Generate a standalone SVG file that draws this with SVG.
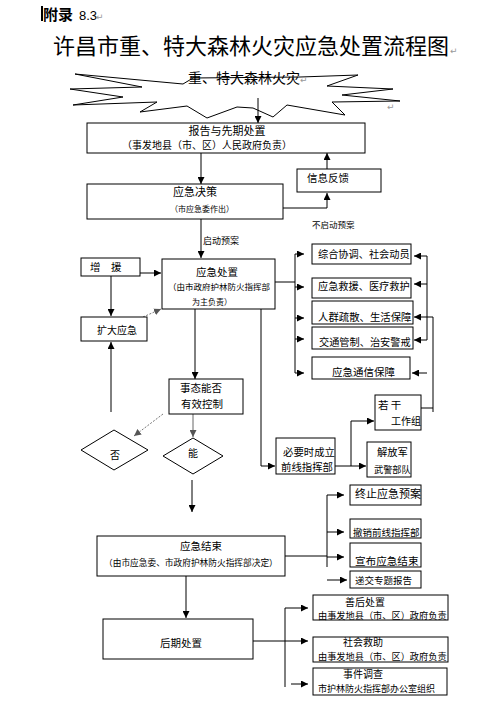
<svg xmlns="http://www.w3.org/2000/svg" width="501" height="704" viewBox="0 0 501 704">
<style>
text{font-family:"Noto Sans CJK SC","Noto Sans CJK JP",sans-serif;fill:#000}
.box{fill:#fff;stroke:#000;stroke-width:1}
.ln{fill:none;stroke:#000;stroke-width:1}
.gl{fill:none;stroke:#666;stroke-width:1}
.dt{fill:none;stroke:#777;stroke-width:1;stroke-dasharray:2 1.5}
.pm{fill:#999;font-size:9px;font-family:"DejaVu Sans",sans-serif}
.m{text-anchor:middle}
</style>
<defs>
<marker id="a" viewBox="0 0 10 10" refX="10" refY="5" markerWidth="7" markerHeight="7" markerUnits="userSpaceOnUse" orient="auto"><path d="M0,0L10,5L0,10z" fill="#000"/></marker>
<marker id="g" viewBox="0 0 10 10" refX="10" refY="5" markerWidth="7" markerHeight="7" markerUnits="userSpaceOnUse" orient="auto"><path d="M0,0L10,5L0,10z" fill="#555"/></marker>
</defs>
<rect width="501" height="704" fill="#fff"/>

<g id="header">
<rect x="41" y="6" width="2" height="15" fill="#000"/>
<text x="43" y="20" font-size="15" font-weight="bold">附录</text>
<text x="79" y="20" font-size="13" style="font-family:'Liberation Sans',sans-serif">8.3</text>
<text x="96" y="20" class="pm">↵</text>
<text x="53" y="54" font-size="22">许昌市重、特大森林火灾应急处置流程图</text>
<text x="450" y="54" class="pm">↵</text>
</g>

<g id="start">
<polygon class="box" points="75,74 183,84 193,78 300,77 358,75 327,86 393,89 342,95 400,101 332,102 345,115 287,105 273,117 253,108 237,107 207,118 187,106 140,112 157,102 73,105 123,97 70,89 142,87"/>
<text x="188" y="83" font-size="14">重、特大森林火灾</text>
<text x="300" y="83" class="pm">↵</text>
<text x="387" y="110" class="pm">↵</text>
</g>

<g id="connectors">
<line class="ln" x1="258" y1="98" x2="258" y2="123" marker-end="url(#a)"/>
<line class="ln" x1="201" y1="153" x2="201" y2="184" marker-end="url(#a)"/>
<polyline class="ln" points="283,208 327,208 327,193" marker-end="url(#a)"/>
<line class="ln" x1="327" y1="169" x2="327" y2="153" marker-end="url(#a)"/>
<line class="ln" x1="201" y1="219" x2="201" y2="258" marker-end="url(#a)"/>
<line class="ln" x1="140" y1="273" x2="161" y2="273" marker-end="url(#a)"/>
<line class="ln" x1="111" y1="276" x2="111" y2="316" marker-end="url(#a)"/>
<line class="dt" x1="143" y1="317" x2="161" y2="309" marker-end="url(#g)"/>
<line class="ln" x1="111" y1="412" x2="111" y2="342" marker-end="url(#a)"/>
<line class="ln" x1="195" y1="309" x2="195" y2="379" marker-end="url(#a)"/>
<line class="gl" x1="193" y1="414" x2="193" y2="437" marker-end="url(#g)"/>
<line class="dt" x1="163" y1="414" x2="134" y2="436" marker-end="url(#g)"/>
<line class="ln" x1="192" y1="480" x2="192" y2="512" marker-end="url(#a)"/>
<polyline class="ln" points="275,282 295,282"/>
<line class="ln" x1="295" y1="254" x2="295" y2="373"/>
<line class="ln" x1="295" y1="254" x2="304" y2="254" marker-end="url(#a)"/>
<line class="ln" x1="295" y1="287" x2="304" y2="287" marker-end="url(#a)"/>
<line class="ln" x1="295" y1="318" x2="304" y2="318" marker-end="url(#a)"/>
<line class="ln" x1="295" y1="339" x2="304" y2="339" marker-end="url(#a)"/>
<line class="ln" x1="295" y1="373" x2="304" y2="373" marker-end="url(#a)"/>
<line class="ln" x1="427" y1="256" x2="427" y2="340"/>
<line class="ln" x1="427" y1="256" x2="414" y2="256" marker-end="url(#a)"/>
<line class="ln" x1="427" y1="284" x2="414" y2="284" marker-end="url(#a)"/>
<line class="ln" x1="427" y1="340" x2="414" y2="340" marker-end="url(#a)"/>
<line class="ln" x1="433" y1="317" x2="433" y2="412"/>
<line class="ln" x1="433" y1="317" x2="414" y2="317" marker-end="url(#a)"/>
<line class="ln" x1="427" y1="373" x2="412" y2="373" marker-end="url(#a)"/>
<line class="ln" x1="421" y1="408" x2="433" y2="408"/>
<polyline class="ln" points="261,302 261,466 275,466" marker-end="url(#a)"/>
<line class="ln" x1="335" y1="466" x2="366" y2="466" marker-end="url(#a)"/>
<polyline class="ln" points="351,466 351,421 374,421" marker-end="url(#a)"/>
<line class="ln" x1="285" y1="556" x2="327" y2="556"/>
<line class="ln" x1="327" y1="495" x2="327" y2="567"/>
<line class="ln" x1="327" y1="495" x2="344" y2="495" marker-end="url(#a)"/>
<line class="ln" x1="327" y1="532" x2="344" y2="532" marker-end="url(#a)"/>
<line class="ln" x1="327" y1="557" x2="344" y2="557" marker-end="url(#a)"/>
<line class="ln" x1="327" y1="580" x2="347" y2="580" marker-end="url(#a)"/>
<line class="ln" x1="186" y1="576" x2="186" y2="618" marker-end="url(#a)"/>
<line class="ln" x1="253" y1="641" x2="308" y2="641" marker-end="url(#a)"/>
<line class="ln" x1="285" y1="608" x2="285" y2="687"/>
<line class="ln" x1="285" y1="608" x2="308" y2="608" marker-end="url(#a)"/>
<line class="ln" x1="291" y1="684" x2="308" y2="684" marker-end="url(#a)"/>
<text x="312" y="228" font-size="8.5">不启动预案</text>
<text x="203" y="244" font-size="9">启动预案</text>
</g>

<g id="n1"><rect class="box" x="87" y="123" width="278" height="30"/>
<text class="m" x="227" y="135" font-size="11">报告与先期处置</text>
<text x="122" y="149" font-size="10">（事发地县（市、区）人民政府负责）</text></g>

<g id="n2"><rect class="box" x="87" y="184" width="196" height="35"/>
<text class="m" x="195" y="196" font-size="11">应急决策</text>
<text x="170" y="212" font-size="8">（市应急委作出）</text></g>

<g id="n3"><rect class="box" x="297" y="169" width="84" height="23"/>
<text x="307" y="182" font-size="10.5">信息反馈</text></g>

<g id="n4"><rect class="box" x="162" y="259" width="113" height="50"/>
<text class="m" x="217" y="276" font-size="10.5">应急处置</text>
<text x="168" y="290" font-size="8.5">（由市政府护林防火指挥部</text>
<text x="192" y="305" font-size="8">为主负责）</text></g>

<g id="n5"><rect class="box" x="81" y="258" width="59" height="18"/>
<text x="90" y="271" font-size="10.5">增　援</text></g>

<g id="n6"><rect class="box" x="81" y="317" width="66" height="24"/>
<text x="97" y="334" font-size="10">扩大应急</text></g>

<g id="n7"><rect class="box" x="169" y="379" width="74" height="35"/>
<text x="180" y="392" font-size="10.5">事态能否</text>
<text x="181" y="408" font-size="10.5">有效控制</text></g>

<g id="n8"><polygon class="box" points="81,450 114,430 148,450 114,470"/>
<text class="m" x="115" y="459" font-size="10">否</text></g>

<g id="n9"><polygon class="box" points="163,456 193,438 223,456 193,474"/>
<text class="m" x="193" y="457" font-size="10">能</text></g>

<g id="r1"><rect class="box" x="312" y="244" width="99" height="20"/>
<text x="318" y="258" font-size="10.2">综合协调、社会动员</text></g>
<g id="r2"><rect class="box" x="312" y="278" width="99" height="20"/>
<text x="318" y="290" font-size="10.2">应急救援、医疗救护</text></g>
<g id="r3"><rect class="box" x="312" y="301" width="101" height="23"/>
<text x="318" y="321" font-size="10.4">人群疏散、生活保障</text></g>
<g id="r4"><rect class="box" x="312" y="327" width="101" height="22"/>
<text x="319" y="346" font-size="10.2">交通管制、治安警戒</text></g>
<g id="r5"><rect class="box" x="312" y="357" width="98" height="22"/>
<text x="332" y="376" font-size="10.5">应急通信保障</text></g>

<g id="n15"><rect class="box" x="276" y="438" width="59" height="36"/>
<text x="283" y="456" font-size="10.4">必要时成立</text>
<text x="281" y="471" font-size="10.4">前线指挥部</text></g>

<g id="n16"><rect class="box" x="375" y="395" width="46" height="35"/>
<text x="378" y="409" font-size="10.5">若 干</text>
<text x="391" y="425" font-size="10">工作组</text></g>

<g id="n17"><rect class="box" x="367" y="442" width="44" height="35"/>
<text x="377" y="456" font-size="10.3">解放军</text>
<text x="374" y="473" font-size="9.2">武警部队</text></g>

<g id="n18"><rect class="box" x="97" y="536" width="188" height="40"/>
<text class="m" x="201" y="550" font-size="10.5">应急结束</text>
<text x="104" y="566" font-size="8.7">（由市应急委、市政府护林防火指挥部决定）</text></g>

<g id="n19"><rect class="box" x="350" y="485" width="71" height="20"/>
<text x="355" y="498" font-size="11">终止应急预案</text></g>
<g id="n20"><rect class="box" x="350" y="519" width="71" height="19"/>
<text x="353" y="536" font-size="9.5">撤销前线指挥部</text></g>
<g id="n21"><rect class="box" x="350" y="543" width="71" height="24"/>
<text x="355" y="565" font-size="10.6">宣布应急结束</text></g>
<g id="n22"><rect class="box" x="350" y="571" width="71" height="17"/>
<text x="355" y="584" font-size="9.5">递交专题报告</text></g>

<g id="n23"><rect class="box" x="103" y="619" width="150" height="40"/>
<text x="160" y="647" font-size="10.5">后期处置</text></g>

<g id="n24"><rect class="box" x="313" y="595" width="135" height="25"/>
<text x="345" y="606" font-size="10">善后处置</text>
<text x="318" y="619" font-size="9.2">由事发地县（市、区）政府负责</text></g>
<g id="n25"><rect class="box" x="313" y="637" width="135" height="25"/>
<text x="343" y="646" font-size="10">社会救助</text>
<text x="318" y="660" font-size="9.2">由事发地县（市、区）政府负责</text></g>
<g id="n26"><rect class="box" x="313" y="668" width="134" height="27"/>
<text x="343" y="678" font-size="10">事件调查</text>
<text x="318" y="692" font-size="9">市护林防火指挥部办公室组织</text></g>
</svg>
